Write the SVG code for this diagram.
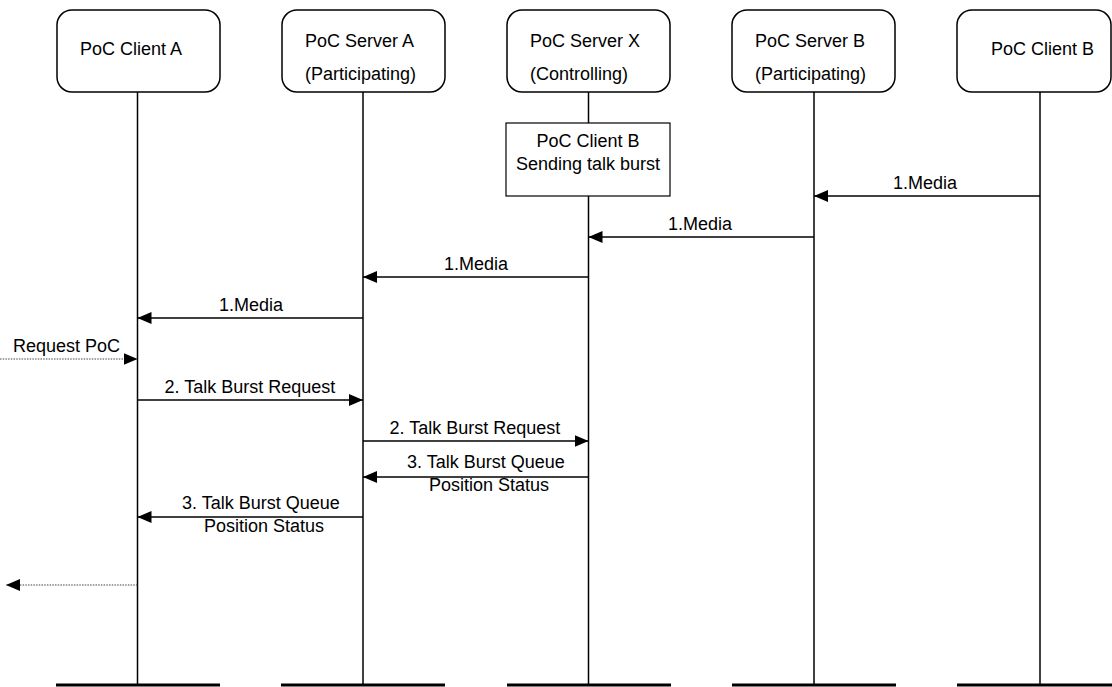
<svg xmlns="http://www.w3.org/2000/svg" width="1112" height="687" viewBox="0 0 1112 687">
<style>
text{font-family:"Liberation Sans",Arial,sans-serif;font-size:18px;fill:#000}
.hdr{fill:#fff;stroke:#000;stroke-width:1.5}
.life{stroke:#000;stroke-width:1.5;fill:none}
.bar{stroke:#000;stroke-width:3}
.msg{stroke:#000;stroke-width:1.5;fill:none;marker-end:url(#ah)}
.dot{stroke:#444;stroke-width:1.2;stroke-dasharray:1.5 1.2;fill:none;marker-end:url(#ah)}
.c{text-anchor:middle}
</style>
<defs>
<marker id="ah" markerWidth="14" markerHeight="12" refX="14" refY="6" orient="auto" markerUnits="userSpaceOnUse"><path d="M0,0 L14,6 L0,12 z" fill="#000"/></marker>
</defs>
<rect width="1112" height="687" fill="#fff"/>
<g id="clientA">
<rect class="hdr" x="57" y="10" width="163" height="82" rx="15"/>
<text x="80" y="55">PoC Client A</text>
<line class="life" x1="137.5" y1="92" x2="137.5" y2="685"/>
<line class="bar" x1="56" y1="685" x2="220" y2="685"/>
</g>
<g id="serverA">
<rect class="hdr" x="282" y="10" width="163" height="82" rx="15"/>
<text x="305" y="47">PoC Server A</text>
<text x="305" y="80">(Participating)</text>
<line class="life" x1="363" y1="92" x2="363" y2="685"/>
<line class="bar" x1="281" y1="685" x2="445" y2="685"/>
</g>
<g id="serverX">
<rect class="hdr" x="507" y="10" width="163" height="82" rx="15"/>
<text x="530" y="47">PoC Server X</text>
<text x="530" y="80">(Controlling)</text>
<line class="life" x1="588.5" y1="92" x2="588.5" y2="123"/>
<line class="life" x1="588.5" y1="196" x2="588.5" y2="685"/>
<line class="bar" x1="507" y1="685" x2="671" y2="685"/>
</g>
<g id="note">
<rect x="506" y="123" width="164" height="73" fill="#fff" stroke="#000" stroke-width="1.2"/>
<text class="c" x="588" y="147">PoC Client B</text>
<text class="c" x="588" y="170">Sending talk burst</text>
</g>
<g id="serverB">
<rect class="hdr" x="732" y="10" width="163" height="82" rx="15"/>
<text x="755" y="47">PoC Server B</text>
<text x="755" y="80">(Participating)</text>
<line class="life" x1="814" y1="92" x2="814" y2="685"/>
<line class="bar" x1="732" y1="685" x2="896" y2="685"/>
</g>
<g id="clientB">
<rect class="hdr" x="957" y="10" width="154" height="82" rx="15"/>
<text x="991" y="55">PoC Client B</text>
<line class="life" x1="1040" y1="92" x2="1040" y2="685"/>
<line class="bar" x1="957" y1="685" x2="1112" y2="685"/>
</g>
<g id="connectors">
<line class="msg" x1="1040" y1="196" x2="814" y2="196"/>
<text class="c" x="925" y="189">1.Media</text>
<line class="msg" x1="814" y1="237" x2="588.5" y2="237"/>
<text class="c" x="700" y="230">1.Media</text>
<line class="msg" x1="588.5" y1="277" x2="363" y2="277"/>
<text class="c" x="476" y="270">1.Media</text>
<line class="msg" x1="363" y1="318" x2="137.5" y2="318"/>
<text class="c" x="251" y="311">1.Media</text>
<line class="dot" x1="0" y1="359" x2="137.5" y2="359"/>
<text x="13" y="352">Request PoC</text>
<line class="msg" x1="137.5" y1="400" x2="363" y2="400"/>
<text class="c" x="250" y="393">2. Talk Burst Request</text>
<line class="msg" x1="363" y1="441" x2="588.5" y2="441"/>
<text class="c" x="475" y="434">2. Talk Burst Request</text>
<line class="msg" x1="588.5" y1="477" x2="363" y2="477"/>
<text class="c" x="486" y="468">3. Talk Burst Queue</text>
<text class="c" x="489" y="491">Position Status</text>
<line class="msg" x1="363" y1="517" x2="137.5" y2="517"/>
<text class="c" x="261" y="509">3. Talk Burst Queue</text>
<text class="c" x="264" y="532">Position Status</text>
<line class="dot" x1="137.5" y1="585" x2="6" y2="585"/>
</g>
</svg>
